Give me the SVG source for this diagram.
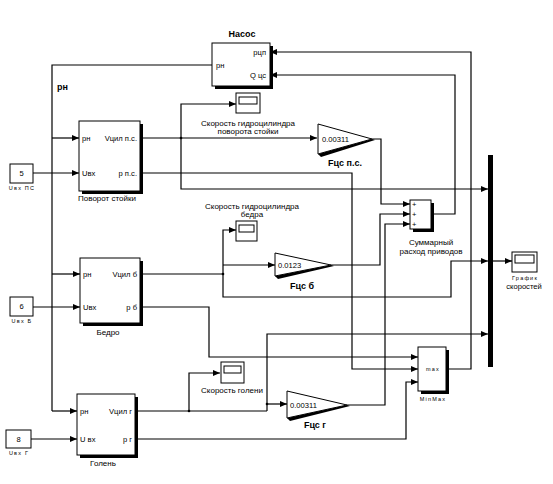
<svg xmlns="http://www.w3.org/2000/svg" width="553" height="484" viewBox="0 0 553 484">
<style>
text{font-family:"Liberation Sans",Arial,sans-serif;fill:#000}
.t{font-size:7.6px}
.l{font-size:8px}
.b{font-size:9px;font-weight:bold}
.s{font-size:5.5px;letter-spacing:1.2px}
.blk{fill:#fff;stroke:#000;stroke-width:1}
.sh{fill:#000}
.w{fill:none;stroke:#000;stroke-width:1.2}
.a{marker-end:url(#ar)}
.m{text-anchor:middle}
.e{text-anchor:end}
</style>
<defs>
<marker id="ar" markerUnits="userSpaceOnUse" markerWidth="7" markerHeight="6" refX="7" refY="3" orient="auto">
<path d="M0,0 L7,3 L0,6 z" fill="#000"/>
</marker>
</defs>
<rect width="553" height="484" fill="#fff"/>

<g id="connectors">
<path class="w" d="M212,65 H52 V411"/>
<path class="w a" d="M52,138 H79" stroke-width="1.8"/>
<path class="w a" d="M52,274 H80" stroke-width="1.8"/>
<path class="w a" d="M52,411 H77" stroke-width="1.8"/>
<path class="w a" d="M33,173 H79"/>
<path class="w a" d="M33,307 H80"/>
<path class="w a" d="M31,439 H77"/>
<path class="w a" d="M140,138 H317"/>
<path class="w a" d="M181,138 V104 H236"/>
<path class="w a" d="M181,138 V189 H488"/>
<path class="w a" d="M140,173 H352 V369 H418"/>
<path class="w a" d="M372,139 H381 V204 H410"/>
<path class="w" d="M140,274 H223"/>
<path class="w a" d="M223,265 H275"/>
<path class="w a" d="M223,274 V230 H236"/>
<path class="w a" d="M223,274 V297 H451 V261 H488"/>
<path class="w a" d="M331,265 H380 V214 H410"/>
<path class="w a" d="M140,307 H209 V357 H418"/>
<path class="w" d="M135,411 H267" stroke-width="1.8"/>
<path class="w a" d="M189,411 V373 H220"/>
<path class="w a" d="M267,411 V334 H488"/>
<path class="w a" d="M267,404 H287"/>
<path class="w a" d="M347,405 H385 V224 H410"/>
<path class="w a" d="M431,214 H455 V75 H270"/>
<path class="w a" d="M446,369 H471 V52 H270"/>
<path class="w a" d="M493,261 H512"/>
<path class="w a" d="M135,439 H406 V382 H418"/>
<circle cx="181" cy="138" r="1.3"/>
<circle cx="223" cy="274" r="1.3"/>
<circle cx="189" cy="411" r="1.3"/>
<circle cx="267" cy="404" r="1.3"/>
</g>

<text class="b" x="57" y="90">рн</text>

<g id="nasos">
<rect class="sh" x="215" y="46" width="58" height="43"/>
<rect class="blk" x="212" y="43" width="58" height="43"/>
<text class="b m" x="242" y="37">Насос</text>
<text class="t" x="216" y="68">рн</text>
<text class="t e" x="266" y="55">рцп</text>
<text class="t e" x="266" y="78">Q цс</text>
</g>

<g id="povorot">
<rect class="sh" x="82" y="124" width="61" height="70"/>
<rect class="blk" x="79" y="121" width="61" height="70"/>
<text class="t" x="82" y="141">рн</text>
<text class="t" x="82" y="176">Uвх</text>
<text class="t e" x="137" y="141">Vцил п.с.</text>
<text class="t e" x="137" y="176">р п.с.</text>
<text class="l m" x="107" y="201">Поворот стойки</text>
</g>

<g id="bedro">
<rect class="sh" x="83" y="261" width="60" height="65"/>
<rect class="blk" x="80" y="258" width="60" height="65"/>
<text class="t" x="83" y="277">рн</text>
<text class="t" x="83" y="310">Uвх</text>
<text class="t e" x="137" y="277">Vцил б</text>
<text class="t e" x="137" y="310">р б</text>
<text class="l m" x="108" y="335">Бедро</text>
</g>

<g id="golen">
<rect class="sh" x="80" y="397" width="58" height="61"/>
<rect class="blk" x="77" y="394" width="58" height="61"/>
<text class="t" x="80" y="414">рн</text>
<text class="t" x="80" y="442">U вх</text>
<text class="t e" x="132" y="414">Vцил г</text>
<text class="t e" x="132" y="442">р г</text>
<text class="l m" x="103" y="466">Голень</text>
</g>

<g id="const5">
<rect class="blk" x="10" y="164" width="23" height="19"/>
<text class="t m" x="21.5" y="176">5</text>
<text class="s m" x="22" y="190">Uвх ПС</text>
</g>
<g id="const6">
<rect class="blk" x="10" y="297" width="23" height="19"/>
<text class="t m" x="21.5" y="309">6</text>
<text class="s m" x="22" y="323">Uвх Б</text>
</g>
<g id="const8">
<rect class="blk" x="6" y="430" width="25" height="18"/>
<text class="t m" x="18.5" y="442">8</text>
<text class="s m" x="19" y="455">Uвх Г</text>
</g>

<g id="scope_ps">
<rect class="blk" x="236" y="93" width="24" height="20"/>
<rect class="blk" x="239" y="97" width="18" height="7"/>
<text class="l m" x="248" y="126">Скорость гидроцилиндра</text>
<text class="l m" x="248" y="134">поворота стойки</text>
</g>
<g id="scope_b">
<rect class="blk" x="236" y="221" width="21" height="20"/>
<rect class="blk" x="239" y="225" width="15" height="7"/>
<text class="l m" x="252" y="209">Скорость гидроцилиндра</text>
<text class="l m" x="252" y="217">бедра</text>
</g>
<g id="scope_g">
<rect class="blk" x="221" y="362" width="23" height="21"/>
<rect class="blk" x="224" y="366" width="17" height="7"/>
<text class="l m" x="232" y="393">Скорость голени</text>
</g>
<g id="scope_graph">
<rect class="blk" x="512" y="252" width="25" height="20"/>
<rect class="blk" x="515" y="255" width="19" height="8"/>
<text class="s m" x="525" y="280">График</text>
<text class="t m" x="524" y="289">скоростей</text>
</g>

<g id="gain_ps">
<polygon class="sh" points="318,154 321,157 375,140 372,139"/>
<polygon class="blk" points="318,124 318,154 372,139"/>
<text class="t" x="322" y="141.5">0.00311</text>
<text class="b m" x="345" y="166">Fцс п.с.</text>
</g>
<g id="gain_b">
<polygon class="sh" points="275,276 278,279 334,266 331,265"/>
<polygon class="blk" points="275,253 275,276 331,265"/>
<text class="t" x="278" y="268">0.0123</text>
<text class="b m" x="302" y="289">Fцс б</text>
</g>
<g id="gain_g">
<polygon class="sh" points="287,418 290,421 350,406 347,405"/>
<polygon class="blk" points="287,391 287,418 347,405"/>
<text class="t" x="290" y="408">0.00311</text>
<text class="b m" x="315" y="428">Fцс г</text>
</g>

<g id="sum">
<rect class="sh" x="413" y="203" width="21" height="29"/>
<rect class="blk" x="410" y="200" width="21" height="29"/>
<text class="t" x="412" y="206.5">+</text>
<text class="t" x="412" y="216.5">+</text>
<text class="t" x="412" y="226.5">+</text>
<text class="l m" x="431" y="245">Суммарный</text>
<text class="l m" x="431" y="254">расход приводов</text>
</g>

<g id="minmax">
<rect class="sh" x="421" y="350" width="28" height="44"/>
<rect class="blk" x="418" y="347" width="28" height="44"/>
<text class="s m" x="433" y="371">max</text>
<text class="s m" x="433" y="401">MinMax</text>
</g>

<g id="bus">
<rect x="488" y="155" width="5" height="212" fill="#000"/>
</g>
</svg>
